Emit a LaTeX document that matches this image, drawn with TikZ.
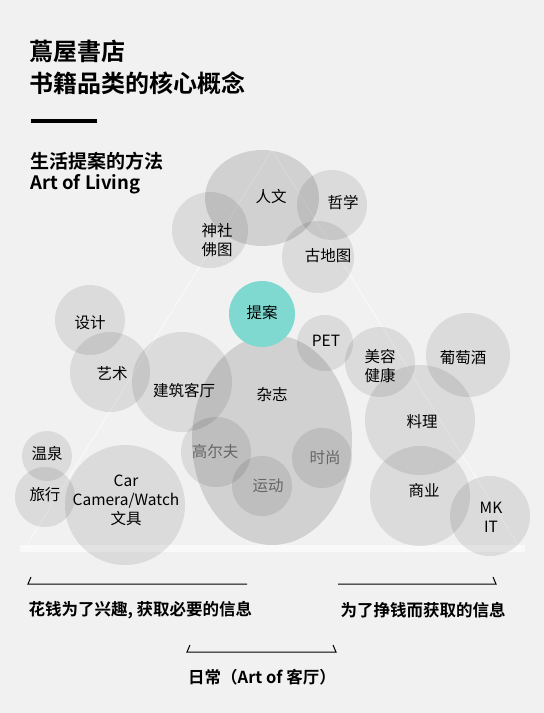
\documentclass[tikz,border=0pt]{standalone}
\usepackage{fontspec}
\setmainfont{Noto Sans CJK SC}
\newfontfamily\cjkb{Noto Sans CJK SC Bold}
\definecolor{bgcol}{HTML}{F1F1F1}
\definecolor{teal}{HTML}{7FD9D0}
\tikzset{
  bub/.style={fill=black, fill opacity=0.09},
  bubd/.style={fill=black, fill opacity=0.13},
  lab/.style={font=\fontsize{15.5}{19}\selectfont, align=center, text=black},
  labg/.style={lab, text=black!60},
  bot/.style={font=\cjkb\fontsize{16.5}{18}\selectfont},
}
\begin{document}
\begin{tikzpicture}[x=1pt,y=-1pt]
                \fill[bgcol] (0,0) rectangle (544,713);
                \useasboundingbox (0,0) rectangle (544,713);
                % stage and faint pyramid
                \draw[white, line width=1pt, opacity=0.6] (272,150)--(25,548);
                \draw[white, line width=1pt, opacity=0.6] (272,150)--(520,548);
                \fill[white, opacity=0.6] (20,545) rectangle (525,552);

                \node[anchor=west, font=\cjkb\fontsize{24}{26}\selectfont] (store) at (26,51) {蔦屋書店};
                \node[anchor=west, font=\cjkb\fontsize{24}{26}\selectfont] (concept) at (26,83) {书籍品类的核心概念};
                \draw[line width=4pt] (31,121)--(97,121);
                \node[anchor=west, font=\cjkb\fontsize{19}{21}\selectfont] (method) at (27,161) {生活提案的方法};
                \node[anchor=west, font=\cjkb\fontsize{18.5}{20}\selectfont] (living) at (27,184) {Art of Living};

                % bubbles
                \fill[bubd] (262,198) ellipse (57 and 48);
                \fill[bub] (332,205) circle (35);
                \fill[bub] (210,230) circle (38);
                \fill[bub] (318,257) circle (36);
                \fill[bub] (90,320) circle (35);
                \fill[bub] (110,372) circle (40);
                \fill[bub] (182,382) circle (50);
                \fill[bubd] (272,440) ellipse (80 and 105);
                \fill[bub] (216,452) circle (35);
                \fill[bub] (322,458) circle (30);
                \fill[bub] (262,486) circle (30);
                \fill[bub] (325,343) circle (28);
                \fill[bub] (47,456) circle (25);
                \fill[bub] (45,497) circle (30);
                \fill[bub] (125,505) circle (60);
                \fill[bub] (380,362) circle (35);
                \fill[bub] (468,355) circle (42);
                \fill[bub] (420,420) circle (55);
                \fill[bub] (420,496) circle (50);
                \fill[bub] (490,516) circle (40);
                \fill[teal] (262,314) circle (33);

                \node[lab] (renwen) at (271,197) {人文};
                \node[lab] (zhexue) at (343,203) {哲学};
                \node[lab] (shenshe) at (217,240) {神社\\佛图};
                \node[lab] (guditu) at (328,256) {古地图};
                \node[lab] (tian) at (262,313) {提案};
                \node[lab] (pet) at (326,341) {PET};
                \node[lab] (sheji) at (90,323) {设计};
                \node[lab] (yishu) at (112,374) {艺术};
                \node[lab] (jianzhu) at (184,391) {建筑客厅};
                \node[lab] (zazhi) at (272,395) {杂志};
                \node[labg] (gaoerfu) at (215,452) {高尔夫};
                \node[labg] (shishang) at (325,458) {时尚};
                \node[labg] (yundong) at (268,486) {运动};
                \node[lab] (wenquan) at (47,454) {温泉};
                \node[lab] (lvxing) at (45,495) {旅行};
                \node[lab] (car) at (126,500) {Car\\Camera/Watch\\文具};
                \node[lab] (meirong) at (380,366) {美容\\健康};
                \node[lab] (putao) at (463,358) {葡萄酒};
                \node[lab] (liaoli) at (422,422) {料理};
                \node[lab] (shangye) at (424,491) {商业};
                \node[lab] (mkit) at (491,517) {MK\\IT};

                % brackets
                \draw[line width=1pt] (31,577)--(28,584)--(247,584);
                \draw[line width=1pt] (338,584)--(496,584)--(493,577);
                \draw[line width=1pt] (190,645)--(187,652)--(336,652)--(333,645);
                \node[bot, anchor=west] (hobby) at (25,610) {花钱为了兴趣, 获取必要的信息};
                \node[bot, anchor=west] (earn) at (337,610) {为了挣钱而获取的信息};
                \node[bot] (daily) at (262,677) {日常（Art of 客厅）};

            \end{tikzpicture}
\end{document}
